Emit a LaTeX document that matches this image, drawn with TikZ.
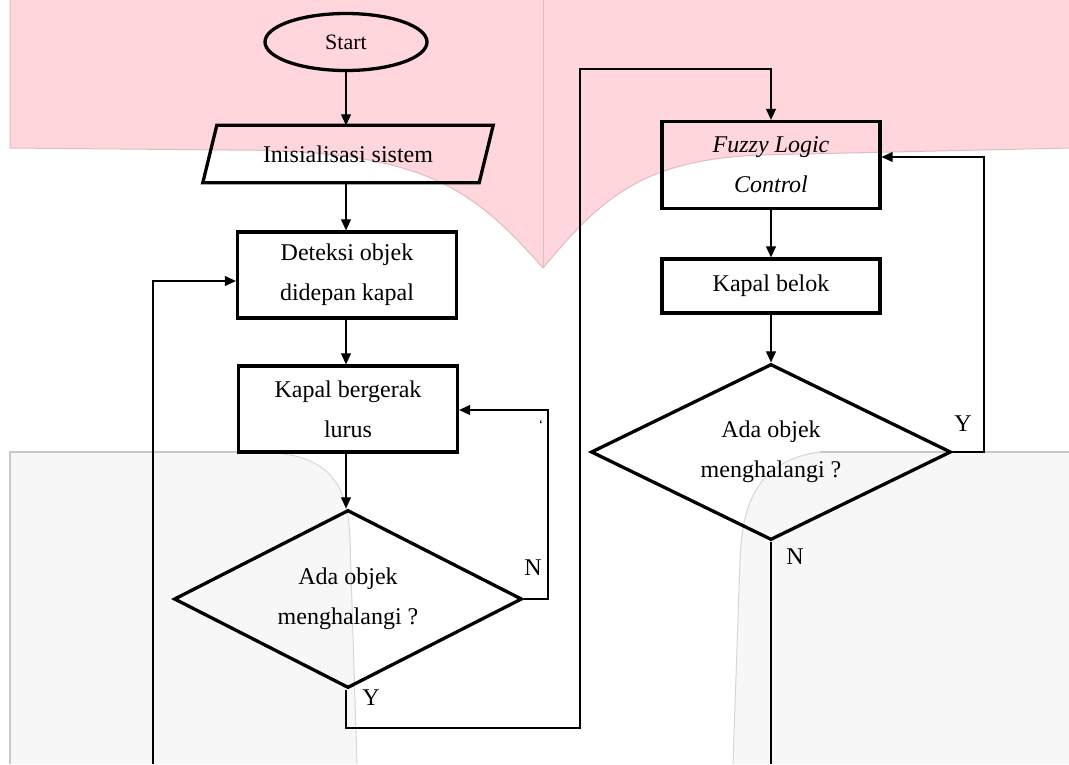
\documentclass[tikz,border=0pt]{standalone}
\usepackage{fontspec}
\setmainfont{Liberation Serif}
\usetikzlibrary{shapes.geometric,arrows.meta,calc}
\definecolor{pinkbg}{RGB}{255,214,220}
\definecolor{pinkedge}{RGB}{222,188,195}
\definecolor{greybg}{RGB}{247,247,247}
\definecolor{greyedge}{RGB}{200,200,200}
\definecolor{greycurve}{RGB}{214,214,214}
\begin{document}
\begin{tikzpicture}[x=1pt,y=-1pt,
  txt/.style={font=\fontsize{24}{40}\selectfont, align=center},
  box/.style={txt, draw, line width=3.3pt, rectangle, inner sep=0pt},
  dec/.style={txt, draw, line width=3.3pt, diamond, inner sep=0pt},
  conn/.style={line width=1.1pt},
  arr/.style={conn, -{Triangle[length=11pt,width=10pt]}},
  lbl/.style={font=\fontsize{24}{28}\selectfont, inner sep=0pt}]
\useasboundingbox (0,0) rectangle (1069,764);
% background decorations
\fill[pinkbg] (10,0) -- (10,148) -- (230,150) .. controls (420,150) and (470,185) .. (543,268)
  .. controls (600,200) and (640,160) .. (760,155) -- (1069,148) -- (1069,0) -- cycle;
\draw[pinkedge, line width=1pt] (10,0) -- (10,148) -- (230,150) .. controls (420,150) and (470,185) .. (543,268)
  .. controls (600,200) and (640,160) .. (760,155) -- (1069,148);
\draw[pinkedge, line width=1pt] (543,0) -- (543,268);
\fill[greybg] (10,452) -- (265,452) .. controls (335,455) and (348,490) .. (350,540) -- (357,764) -- (10,764) -- cycle;
\fill[greybg] (1069,452) -- (820,452) .. controls (760,460) and (742,500) .. (740,560) -- (733,764) -- (1069,764) -- cycle;
\draw[greyedge, line width=1.2pt] (10,764) -- (10,452) -- (265,452);
\draw[greyedge, line width=1.2pt] (820,452) -- (1069,452);
\draw[greycurve, line width=1pt] (265,452) .. controls (335,455) and (348,490) .. (350,540) -- (357,764);
\draw[greycurve, line width=1pt] (820,452) .. controls (760,460) and (742,500) .. (740,560) -- (733,764);
% nodes
\node[draw, line width=3.3pt, ellipse, minimum width=162pt, minimum height=57pt, inner sep=0pt,
  font=\fontsize{22}{26}\selectfont] (start) at (346,42) {Start};
\node[txt, minimum width=276pt, minimum height=57pt, inner sep=0pt] (init) at (348,154) {Inisialisasi sistem};
\draw[line width=3.3pt, line join=miter] ($(init.south west)+(-7,0)$) -- ($(init.north west)+(7,0)$)
  -- ($(init.north east)+(7,0)$) -- ($(init.south east)+(-7,0)$) -- cycle;
\node[box, minimum width=219pt, minimum height=86pt] (detect) at (347,275) {Deteksi objek\\didepan kapal};
\node[box, minimum width=219pt, minimum height=86pt] (lurus) at (348,409) {Kapal bergerak\\lurus};
\node[dec, minimum width=348pt, minimum height=178pt, aspect=1.955] (dec1) at (348,599) {Ada objek\\menghalangi ?};
\node[box, minimum width=218pt, minimum height=87pt] (fuzzy) at (771,165) {\itshape Fuzzy Logic\\\itshape Control};
\node[box, minimum width=218pt, minimum height=54pt] (belok) at (771,286) {Kapal belok};
\node[dec, minimum width=360pt, minimum height=176pt, aspect=2.045] (dec2) at (771,452) {Ada objek\\menghalangi ?};
% coordinates
\coordinate (n1) at (548,410);
\coordinate (y1) at (580,728);
\coordinate (y2) at (580,69);
\coordinate (y3) at (984,157);
\coordinate (n2end) at (771,764);
\coordinate (lbot) at (153,764);
\coordinate (ltop) at (153,281);
% connectors
\draw[arr] (start) -- (init.north -| start);
\draw[arr] (init.south -| start) -- (detect.north -| start);
\draw[arr] (detect.south -| start) -- (lurus.north -| start);
\draw[arr] (lurus.south -| start) -- (dec1.north -| start);
\draw[arr] (dec1.east) -| (n1) -- (lurus.east |- n1);
\draw[arr] (dec1.south -| start) |- (y1) -- (y2) -| (fuzzy.north);
\draw[arr] (fuzzy.south) -- (belok.north);
\draw[arr] (belok.south) -- (dec2.north);
\draw[arr] (dec2.east) -| (y3) -- (fuzzy.east |- y3);
\draw[conn] (dec2.south) -- (n2end);
\draw[arr] (lbot) -- (ltop) -- (detect.west |- ltop);
% labels
\node[lbl] (lN1) at (533,568) {N};
\node[lbl] (lY1) at (371,698) {Y};
\node[lbl] (lY2) at (963,424) {Y};
\node[lbl] (lN2) at (795,557) {N};
\node[font=\fontsize{14}{16}\selectfont, inner sep=0pt] (tick) at (541,425) {`};
\end{tikzpicture}
\end{document}
